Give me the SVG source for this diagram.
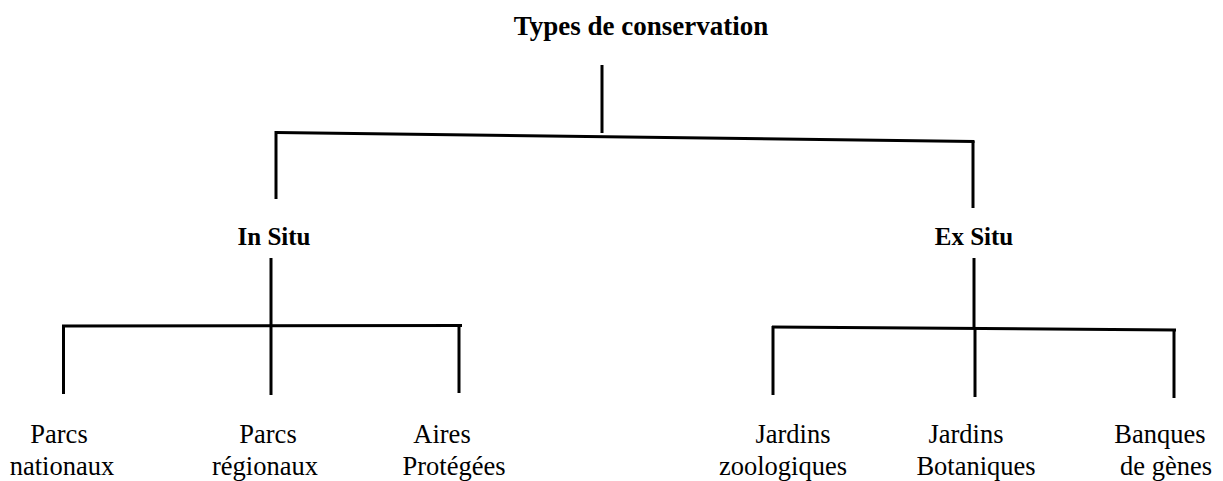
<svg xmlns="http://www.w3.org/2000/svg" width="1223" height="481" viewBox="0 0 1223 481">
<style>
.ln{stroke:#000;stroke-width:3;fill:none;stroke-linecap:butt}
.t{font-family:"Liberation Serif","Times New Roman",serif;fill:#000;text-anchor:middle}
.b{font-weight:bold}
.h1{font-size:27px}
.h2{font-size:25px}
.lf{font-size:26.5px}
</style>
<rect width="1223" height="481" fill="#fff"/>
<g id="connectors">
<line class="ln" x1="602" y1="65" x2="602" y2="133"/>
<line class="ln" x1="276" y1="132.5" x2="974.5" y2="141.5"/>
<line class="ln" x1="276" y1="131" x2="276" y2="199"/>
<line class="ln" x1="973" y1="141" x2="973" y2="208"/>
<line class="ln" x1="271" y1="258" x2="271" y2="395"/>
<line class="ln" x1="62" y1="326" x2="462" y2="325.5"/>
<line class="ln" x1="63.5" y1="325" x2="63.5" y2="394"/>
<line class="ln" x1="459" y1="325" x2="459" y2="393"/>
<line class="ln" x1="974" y1="258" x2="974" y2="328"/>
<line class="ln" x1="772" y1="327" x2="1176" y2="330"/>
<line class="ln" x1="773" y1="326" x2="773" y2="395"/>
<line class="ln" x1="975" y1="328" x2="975" y2="397"/>
<line class="ln" x1="1174" y1="329" x2="1174" y2="398"/>
</g>
<g id="root"><text class="t b h1" x="641" y="35">Types de conservation</text></g>
<g id="in-situ"><text class="t b h2" x="274" y="245">In Situ</text></g>
<g id="ex-situ"><text class="t b h2" x="974" y="245">Ex Situ</text></g>
<g id="parcs-nationaux"><text class="t lf" y="443"><tspan x="59">Parcs</tspan><tspan x="62" y="475">nationaux</tspan></text></g>
<g id="parcs-regionaux"><text class="t lf" y="443"><tspan x="268">Parcs</tspan><tspan x="265" y="475">régionaux</tspan></text></g>
<g id="aires-protegees"><text class="t lf" y="443"><tspan x="442">Aires</tspan><tspan x="454" y="475">Protégées</tspan></text></g>
<g id="jardins-zoologiques"><text class="t lf" y="443"><tspan x="793">Jardins</tspan><tspan x="783" y="475">zoologiques</tspan></text></g>
<g id="jardins-botaniques"><text class="t lf" y="443"><tspan x="966">Jardins</tspan><tspan x="976" y="475">Botaniques</tspan></text></g>
<g id="banques-genes"><text class="t lf" y="443"><tspan x="1160">Banques</tspan><tspan x="1166" y="475">de gènes</tspan></text></g>
</svg>
